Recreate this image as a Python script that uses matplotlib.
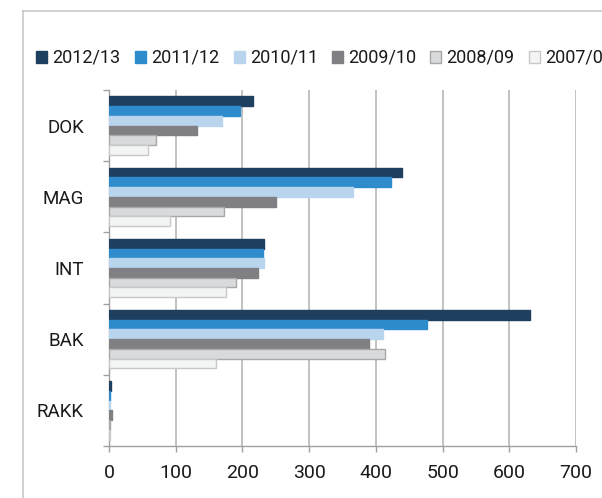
import matplotlib
matplotlib.use("Agg")
import matplotlib.pyplot as plt
from matplotlib.patches import Rectangle
from matplotlib.lines import Line2D
import numpy as np

plt.rcParams['font.family'] = ['Roboto', 'DejaVu Sans']

categories = ["DOK", "MAG", "INT", "BAK", "RAKK"]
series = ["2012/13", "2011/12", "2010/11", "2009/10", "2008/09", "2007/08"]
v_2012_13 = [216, 439, 232, 631, 3]
v_2011_12 = [197, 422, 231, 476, 2]
v_2010_11 = [169, 365, 232, 411, 1]
v_2009_10 = [132, 250, 223, 389, 5]
v_2008_09 = [71, 173, 191, 413, 1]
v_2007_08 = [59, 92, 175, 160, 1]
values = [v_2012_13, v_2011_12, v_2010_11, v_2009_10, v_2008_09, v_2007_08]
xticks = [0, 100, 200, 300, 400, 500, 600, 700]

colors = ["#1f3f60", "#2e8bcc", "#b9d5ee", "#7f7f84", "#d9dadc", "#f3f5f5"]
edges = ["#1f3f60", "#2e8bcc", "#b9d5ee", "#7f7f84", "#a8a8a8", "#c8c8c8"]

W, H = 602, 498
fig = plt.figure(figsize=(W / 100, H / 100), dpi=100)
ax = fig.add_axes([109 / W, 1 - 446 / H, (576 - 109) / W, (446 - 90) / H])

group = 0.82
h = group / len(series)
y = np.arange(len(categories))
for i, (s, vals) in enumerate(zip(series, values)):
    off = -group / 2 + h * (i + 0.5)
    ax.barh(y + off, vals, height=h, color=colors[i], edgecolor=edges[i],
            linewidth=1.0, zorder=3)

ax.set_ylim(len(categories) - 0.5, -0.5)
ax.set_xlim(0, 700)
ax.set_xticks(xticks)
ax.set_xticklabels([str(t) for t in xticks])
ax.set_yticks(y)
ax.set_yticklabels(categories)
ax.set_yticks(np.arange(len(categories) + 1) - 0.5, minor=True)
ax.tick_params(axis='y', which='major', length=0, pad=25 * 0.72, labelsize=13.5, colors='#1a1a1a')
ax.tick_params(axis='y', which='minor', length=4.3, width=1.0, color='#a0a0a0')
ax.tick_params(axis='x', length=4.3, width=1.0, color='#a0a0a0', pad=9, labelsize=14, labelcolor='#1a1a1a')
ax.xaxis.grid(True, color='#bdbdbd', linewidth=1.3, zorder=0)
ax.set_axisbelow(True)
for sp in ['top', 'right']:
    ax.spines[sp].set_visible(False)
for sp in ['left', 'bottom']:
    ax.spines[sp].set_color('#a0a0a0')
    ax.spines[sp].set_linewidth(1.0)

# outer frame
fig.add_artist(Line2D([23 / W, 23 / W], [0, 1 - 11 / H], transform=fig.transFigure,
                      color='#c8c8c8', linewidth=1.2))
fig.add_artist(Line2D([23 / W, 1], [1 - 11 / H, 1 - 11 / H], transform=fig.transFigure,
                      color='#c8c8c8', linewidth=1.2))

# legend (manual, clipped at the right edge like the reference)
lx = [36, 135, 234, 332, 430, 529]
ly = 57
for i, s in enumerate(series):
    fig.add_artist(Rectangle(((lx[i]) / W, 1 - (ly + 6) / H), 11 / W, 12 / H,
                             transform=fig.transFigure, facecolor=colors[i],
                             edgecolor=edges[i] if i >= 4 else colors[i], linewidth=1.0))
    fig.text((lx[i] + 16) / W, 1 - ly / H, s, fontsize=13, va='center', ha='left',
             color='#1a1a1a')

fig.savefig("out.png", dpi=100)
